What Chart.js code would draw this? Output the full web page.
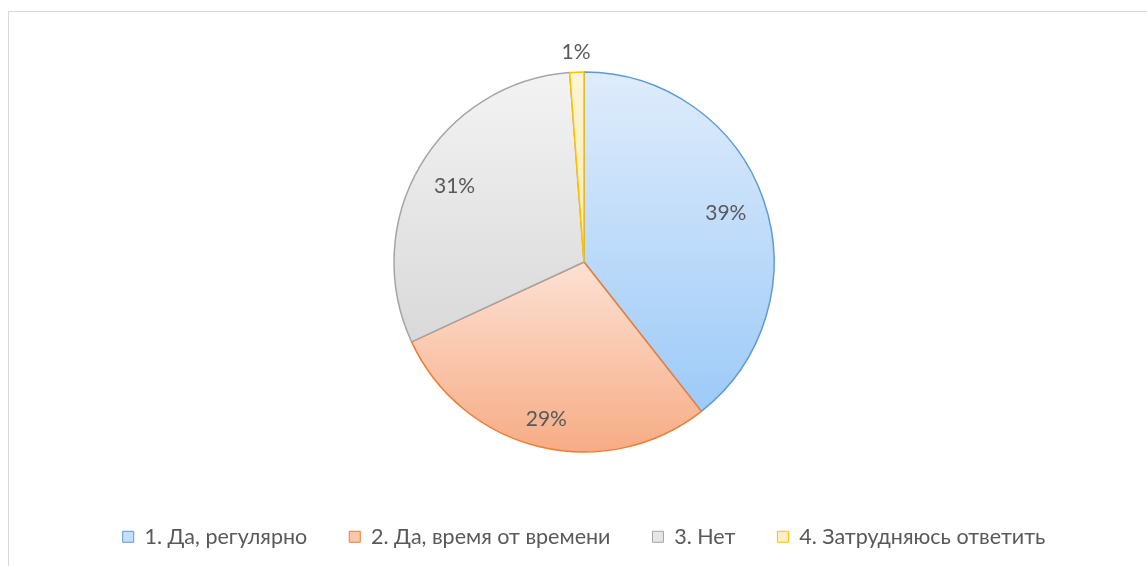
<!DOCTYPE html>
<html lang="ru">
<head>
<meta charset="utf-8">
<script src="https://cdn.jsdelivr.net/npm/chart.js@4/dist/chart.umd.min.js"></script>
<style>
    html, body { margin: 0; padding: 0; background: #fff; overflow: hidden; }
    #frame {
        position: absolute; left: 8px; top: 11px;
        width: 1150px; height: 600px;
        border: 1px solid #d9d9d9;
    }
    #box { position: absolute; left: 0; top: 0; width: 1150px; height: 554px; }
</style>
</head>
<body>
<div id="frame"><div id="box"><canvas id="pieChart"></canvas></div></div>
<script>
/* global Chart */

const LABELS = ['1. Да, регулярно', '2. Да, время от времени', '3. Нет', '4. Затрудняюсь ответить'];
const VALUES = [39.4, 28.7, 30.7, 1.2];
const BORDERS = ['#5b9bd5', '#ed7d31', '#a5a5a5', '#ffc000'];
const GRAD_TOP = ['#dfecfb', '#fce1d4', '#f3f3f3', '#fff5d6'];
const GRAD_BOTTOM = ['#9dcaf8', '#f7ac85', '#d9d9d9', '#ffeaa8'];
const LEGEND_FILL = ['#c5defa', '#fbc8ae', '#e6e6e6', '#fff0bf'];

const FONT = "Lato, 'Open Sans', sans-serif";

// vertical gradient spanning each slice's own height
const sliceGradient = {
    id: 'sliceGradient',
    beforeDatasetsDraw(chart) {
        const ctx = chart.ctx;
        chart.getDatasetMeta(0).data.forEach((arc, i) => {
            const { y, startAngle, endAngle, outerRadius } = arc.getProps(['y', 'startAngle', 'endAngle', 'outerRadius'], true);
            const ys = [y, y + outerRadius * Math.sin(startAngle), y + outerRadius * Math.sin(endAngle)];
            for (let k = -2; k <= 2; k++) {
                const top = -Math.PI / 2 + k * 2 * Math.PI;
                const bot = Math.PI / 2 + k * 2 * Math.PI;
                if (top >= startAngle && top <= endAngle) ys.push(y - outerRadius);
                if (bot >= startAngle && bot <= endAngle) ys.push(y + outerRadius);
            }
            const g = ctx.createLinearGradient(0, Math.min(...ys), 0, Math.max(...ys));
            g.addColorStop(0, GRAD_TOP[i]);
            g.addColorStop(1, GRAD_BOTTOM[i]);
            arc.options.backgroundColor = g;
        });
    }
};

// percentage labels, inside big slices, outside the tiny one
const pctLabels = {
    id: 'pctLabels',
    afterDatasetsDraw(chart) {
        const ctx = chart.ctx;
        const total = VALUES.reduce((s, v) => s + v, 0);
        ctx.save();
        ctx.font = `21px ${FONT}`;
        ctx.fillStyle = '#595959';
        ctx.textAlign = 'center';
        ctx.textBaseline = 'middle';
        chart.getDatasetMeta(0).data.forEach((arc, i) => {
            const { x, y, startAngle, endAngle, outerRadius } = arc.getProps(['x', 'y', 'startAngle', 'endAngle', 'outerRadius'], true);
            const mid = (startAngle + endAngle) / 2;
            const pct = VALUES[i] / total * 100;
            const r = pct < 5 ? outerRadius + 20 : outerRadius * (i === 1 ? 0.85 : 0.79);
            ctx.fillText(Math.round(pct) + '%', x + r * Math.cos(mid), y + r * Math.sin(mid));
        });
        ctx.restore();
    }
};

new Chart(document.getElementById('pieChart'), {
    type: 'pie',
    data: {
        labels: LABELS,
        datasets: [{
            data: VALUES,
            backgroundColor: GRAD_BOTTOM,
            borderColor: BORDERS,
            borderWidth: 1.5,
            radius: 190,
        }]
    },
    options: {
        responsive: true,
        maintainAspectRatio: false,
        animation: false,
        layout: { padding: { top: 28, bottom: 8.5 } },
        plugins: {
            tooltip: { enabled: false },
            legend: {
                display: true,
                position: 'bottom',
                labels: {
                    font: { family: FONT, size: 21.5 },
                    color: '#595959',
                    boxWidth: 11,
                    boxHeight: 11,
                    padding: 42,
                    generateLabels: () => LABELS.map((text, i) => ({
                        text,
                        fillStyle: LEGEND_FILL[i],
                        strokeStyle: BORDERS[i],
                        lineWidth: 1,
                        fontColor: '#595959',
                        index: i,
                    })),
                },
            },
        },
    },
    plugins: [sliceGradient, pctLabels],
});
</script>
</body>
</html>
